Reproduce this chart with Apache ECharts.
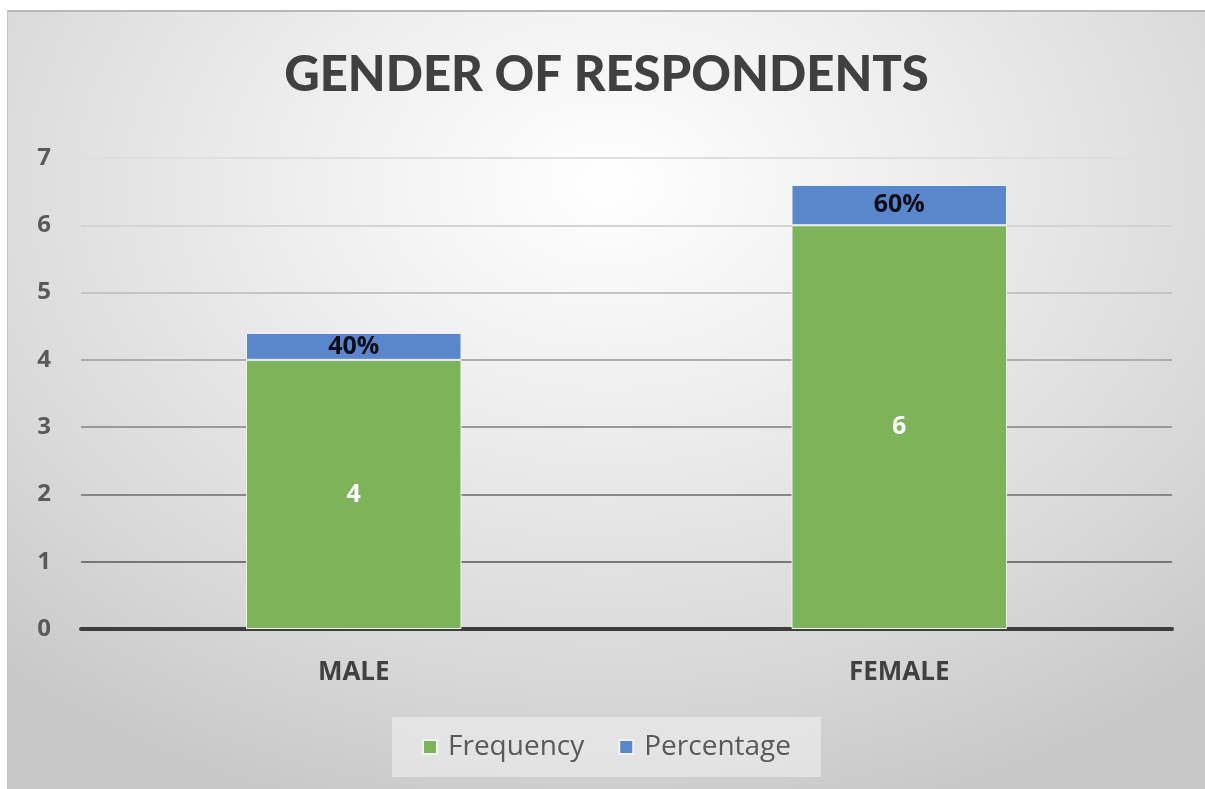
<!DOCTYPE html>
<html>
<head>
<meta charset="utf-8">
<script src="https://cdn.jsdelivr.net/npm/echarts@6/dist/echarts.min.js"></script>
<style>
  html, body { margin: 0; padding: 0; background: #ffffff; }
  #frame {
    position: absolute; left: 7px; top: 10px; width: 1198px; height: 779px;
    background: radial-gradient(ellipse 75% 85% at 50% 22%, #ffffff 0%, #eeeeee 35%, #d8d8d8 75%, #c8c8c8 100%);
    border-top: 2px solid #b8b8b8; border-left: 1px solid #c4c4c4;
    box-sizing: border-box;
  }
  #chart { position: absolute; left: 0; top: 0; width: 100%; height: 100%; }
</style>
</head>
<body>
<div id="frame"><div id="chart"></div></div>
<script>
// Gender breakdown of survey respondents
const categories = ['MALE', 'FEMALE'];
const frequency = [4, 6];
const percentage = [0.4, 0.6];
const yTicks = [0, 1, 2, 3, 4, 5, 6, 7];

const chart = echarts.init(document.getElementById('chart'));

const titleFont = 'Lato, "Open Sans", sans-serif';
const labelFont = '"Open Sans", Lato, sans-serif';

chart.setOption({
  animation: false,
  title: {
    text: 'GENDER OF RESPONDENTS',
    left: 'center',
    top: 34,
    textStyle: { fontFamily: titleFont, fontWeight: 900, fontSize: 49, color: '#404040' }
  },
  legend: {
    bottom: 12,
    left: 'center',
    itemWidth: 14,
    itemHeight: 14,
    itemGap: 34,
    padding: [16, 30],
    backgroundColor: 'rgba(240,240,240,0.6)',
    icon: 'rect',
    textStyle: {
      fontFamily: '"Open Sans", sans-serif', fontSize: 28, color: '#595959',
      padding: [0, 0, 0, 6]
    },
    data: ['Frequency', 'Percentage']
  },
  grid: { left: 73, right: 33, top: 146, bottom: 160 },
  xAxis: {
    type: 'category',
    data: categories,
    axisTick: { show: false },
    axisLine: { show: true, lineStyle: { color: '#3d3d3d', width: 4 } },
    axisLabel: { margin: 31, fontFamily: labelFont, fontWeight: 'bold', fontSize: 26, color: '#404040' }
  },
  yAxis: {
    type: 'value',
    min: yTicks[0],
    max: yTicks[yTicks.length - 1],
    interval: 1,
    axisLine: { show: false },
    axisTick: { show: false },
    axisLabel: { margin: 30, fontFamily: labelFont, fontWeight: 'bold', fontSize: 24, color: '#595959' },
    splitLine: {
      lineStyle: {
        width: 2,
        color: ['#404040', '#777777', '#888888', '#999999', '#adadad', '#c4c4c4', '#d4d4d4', '#dfdfdf']
      }
    }
  },
  series: [
    {
      name: 'Frequency',
      type: 'bar',
      stack: 'total',
      data: frequency,
      barWidth: '39.5%',
      itemStyle: { color: '#7db35b', borderColor: '#f2f2f2', borderWidth: 1 },
      label: {
        show: true, position: 'inside',
        fontFamily: labelFont, fontWeight: 'bold', fontSize: 25, color: '#ffffff'
      }
    },
    {
      name: 'Percentage',
      type: 'bar',
      stack: 'total',
      data: percentage,
      itemStyle: { color: '#5a86cc', borderColor: '#f2f2f2', borderWidth: 1 },
      label: {
        show: true, position: 'inside',
        formatter: p => Math.round(p.value * 100) + '%',
        fontFamily: labelFont, fontWeight: 'bold', fontSize: 25, color: '#0d0d1a'
      }
    }
  ]
});
</script>
</body>
</html>
